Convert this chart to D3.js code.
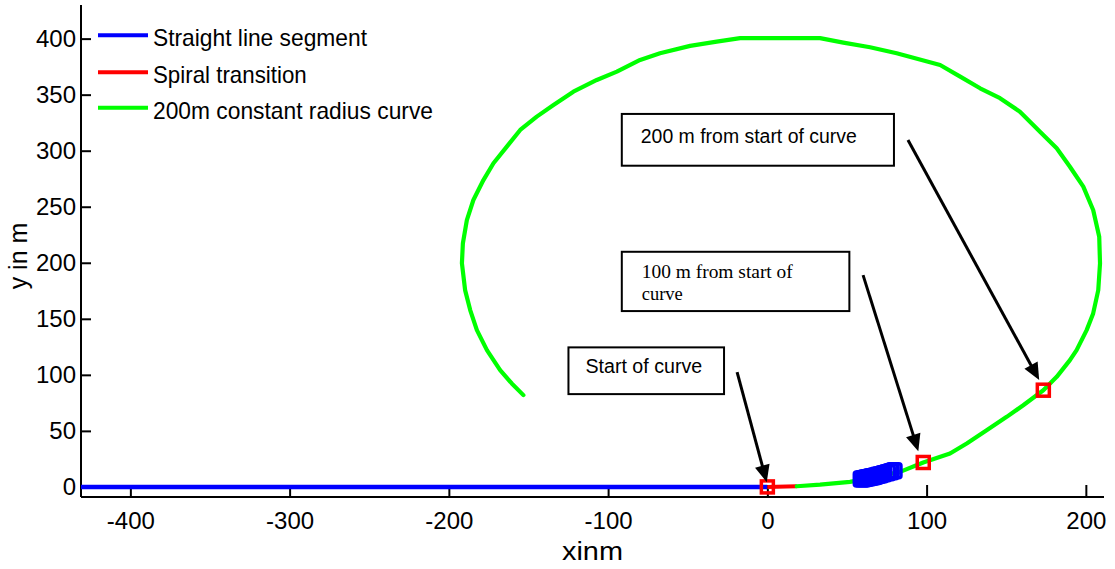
<!DOCTYPE html>
<html><head><meta charset="utf-8">
<script src="https://cdn.jsdelivr.net/npm/d3@7"></script>
<style>body{margin:0;background:#fff}svg{display:block}</style>
</head><body>
<svg id="chart" width="1115" height="569"></svg>
<script>
// ---------- data ----------
const xTicks = [-400, -300, -200, -100, 0, 100, 200];
const yTicks = [0, 50, 100, 150, 200, 250, 300, 350, 400];
const xLabel = "xinm";
const yLabel = "y in m";

const legendLabels = ["Straight line segment", "Spiral transition", "200m constant radius curve"];

// straight line segment (blue)
const straightX = [-431, 0];
const straightY = [0, 0];

// spiral transition (red)
const spiralX = [0, 6, 12, 18.5];
const spiralY = [0, 0.1, 0.3, 0.6];

// 200 m constant radius curve (green)
const curveX = [18.5, 33.1, 51.9, 67.6, 83.3, 97.9, 114.7, 125.2, 137.7, 150.3, 160.7, 173.3, 181.7, 190.0,
  194.2, 200.5, 204.6, 207.8, 208.9, 208.4, 204.6, 198.4, 190.0, 181.7, 171.2, 158.6, 146.1, 133.6,
  121.1, 108.5, 81.2, 64.5, 47.7, 33.1, -17.1, -31.8, -48.5, -67.4, -79.9, -94.5, -107.1, -121.8,
  -134.3, -144.8, -155.2, -163.6, -172.0, -178.3, -184.6, -188.7, -191.2, -191.8, -189.8, -186.6,
  -182.4, -176.1, -167.8, -160.5, -153.2];
const curveY = [0.6, 2.0, 4.5, 8.7, 13.4, 21.8, 29.8, 38.8, 50.6, 62.5, 72.9, 86.3, 98.2, 113.1,
  122.1, 139.9, 154.8, 175.6, 199.5, 223.2, 247.1, 267.9, 285.7, 302.1, 317.0, 334.8, 346.8, 355.7,
  366.1, 376.5, 387.0, 392.3, 396.4, 400.4, 400.4, 397.3, 393.5, 387.0, 381.0, 370.5, 363.1, 352.7,
  340.8, 330.4, 318.5, 303.6, 288.8, 273.8, 256.0, 238.1, 217.3, 199.5, 175.6, 157.8,
  139.9, 122.1, 104.2, 92.3, 81.9];

// blue square markers (cluster on the curve)
const blueMarkX = [59, 60, 61, 62, 63, 64, 65, 66, 67, 68, 69.5, 71, 73, 75.3, 77.5, 79.5];
const blueMarkY = [7.0, 7.3, 7.6, 7.9, 8.2, 8.5, 8.8, 9.1, 9.4, 9.7, 10.3, 10.9, 11.8, 12.7, 13.6, 14.5];

// red square markers: start of curve, 100 m, 200 m
const redMarkX = [0, 97.9, 173.3];
const redMarkY = [0, 21.8, 86.3];

// annotation boxes (data units): x0, x1, yTop, yBottom
const noteText = [["200 m from start of curve"], ["100 m from start of", "curve"], ["Start of curve"]];
const noteX0 = [-91.4, -91.4, -124.9];
const noteX1 = [79.5, 51.5, -27.2];
const noteYTop = [332.8, 209.8, 124.5];
const noteYBot = [286.6, 156.9, 82.8];

// arrows (data units): start -> tip
const arrowX0 = [88.3, 60.1, -19.0];
const arrowY0 = [309.6, 189.0, 102.4];
const arrowX1 = [170.7, 94.8, -0.4];
const arrowY1 = [95.3, 31.9, 4.2];

// ---------- layout / styles ----------
const plot = {left: 81, right: 1104, top: 5, bottom: 497};
const sans = "'Liberation Sans', Arial, Helvetica, sans-serif";
const serif = "'Liberation Serif', 'Times New Roman', serif";
const colors = ["#0000ff", "#ff0000", "#00ff00"];

const svg = d3.select("#chart");
const x = d3.scaleLinear().domain([-431, 211.4]).range([plot.left, plot.right]);
const y = d3.scaleLinear().domain([-9, 430]).range([plot.bottom, plot.top]);

const line = d3.line().x(d => x(d[0])).y(d => y(d[1]));
const zip = (a, b) => a.map((v, i) => [v, b[i]]);
const fmt = d => String(d);

// axes
const gx = svg.append("g").attr("transform", `translate(0,${plot.bottom})`)
  .call(d3.axisBottom(x).tickValues(xTicks).tickFormat(fmt)
    .tickSizeInner(-12).tickSizeOuter(0).tickPadding(15));
const gy = svg.append("g").attr("transform", `translate(${plot.left},0)`)
  .call(d3.axisLeft(y).tickValues(yTicks).tickFormat(fmt)
    .tickSizeInner(-10).tickSizeOuter(0).tickPadding(5));
[gx, gy].forEach(g => {
  g.select(".domain").attr("stroke", "#000").attr("stroke-width", 2);
  g.selectAll(".tick line").attr("stroke", "#000").attr("stroke-width", 2);
  g.selectAll(".tick text").attr("fill", "#000").style("font-family", sans).style("font-size", "24px");
});
gy.selectAll(".tick text").attr("dy", "0.33em");
gy.select(".domain").attr("d", `M0,${plot.top}V${plot.bottom}`);
gx.select(".domain").attr("d", `M${plot.left},0H${plot.right}`);

// axis labels
svg.append("text").attr("x", (plot.left + plot.right) / 2).attr("y", 560)
  .attr("text-anchor", "middle").attr("textLength", 61).attr("lengthAdjust", "spacingAndGlyphs")
  .style("font-family", sans).style("font-size", "25px").text(xLabel);
svg.append("text").attr("transform", `translate(27,${(plot.top + plot.bottom) / 2 + 5}) rotate(-90)`)
  .attr("text-anchor", "middle")
  .style("font-family", sans).style("font-size", "25px").text(yLabel);

// series lines
const plotG = svg.append("g");
plotG.append("path").datum(zip(straightX, straightY)).attr("d", line)
  .attr("fill", "none").attr("stroke", colors[0]).attr("stroke-width", 4.5);
plotG.append("path").datum(zip(spiralX, spiralY)).attr("d", line)
  .attr("fill", "none").attr("stroke", colors[1]).attr("stroke-width", 4);
plotG.append("path").datum(zip(curveX, curveY)).attr("d", line)
  .attr("fill", "none").attr("stroke", colors[2]).attr("stroke-width", 4.2)
  .attr("stroke-linejoin", "round").attr("stroke-linecap", "round");

// markers
const bs = 14;
plotG.selectAll("rect.blue").data(zip(blueMarkX, blueMarkY)).join("rect").attr("class", "blue")
  .attr("x", d => x(d[0]) - bs / 2).attr("y", d => y(d[1]) - bs / 2)
  .attr("width", bs).attr("height", bs).attr("rx", 2)
  .attr("fill", "none").attr("stroke", colors[0]).attr("stroke-width", 3.5);
const rs = 12;
plotG.selectAll("rect.red").data(zip(redMarkX, redMarkY)).join("rect").attr("class", "red")
  .attr("x", d => x(d[0]) - rs / 2).attr("y", d => y(d[1]) - rs / 2)
  .attr("width", rs).attr("height", rs)
  .attr("fill", "none").attr("stroke", colors[1]).attr("stroke-width", 3.5);

// annotation boxes
const notePad = [19, 20, 17];
const noteBase = [[29.3], [26.6, 48.3], [26]];
const noteFont = [sans, serif, sans];
const noteSize = [19.5, 19.4, 20];
const noteLen = [[216], [151, 41], [116.7]];
noteText.forEach((lines, i) => {
  const bx = x(noteX0[i]), by = y(noteYTop[i]);
  svg.append("rect").attr("x", bx).attr("y", by)
    .attr("width", x(noteX1[i]) - bx).attr("height", y(noteYBot[i]) - by)
    .attr("fill", "#fff").attr("stroke", "#000").attr("stroke-width", 2);
  lines.forEach((t, j) => {
    svg.append("text").attr("x", bx + notePad[i]).attr("y", by + noteBase[i][j])
      .attr("textLength", noteLen[i][j]).attr("lengthAdjust", "spacingAndGlyphs")
      .style("font-family", noteFont[i]).style("font-size", noteSize[i] + "px").text(t);
  });
});

// arrows
const headLen = 17, headW = 15;
arrowX0.forEach((_, i) => {
  const x0 = x(arrowX0[i]), y0 = y(arrowY0[i]), x1 = x(arrowX1[i]), y1 = y(arrowY1[i]);
  const dx = x1 - x0, dy = y1 - y0, L = Math.hypot(dx, dy);
  const ux = dx / L, uy = dy / L;
  const bxp = x1 - ux * headLen, byp = y1 - uy * headLen;
  svg.append("line").attr("x1", x0).attr("y1", y0).attr("x2", bxp + ux * 2).attr("y2", byp + uy * 2)
    .attr("stroke", "#000").attr("stroke-width", 3);
  const px = -uy * headW / 2, py = ux * headW / 2;
  svg.append("path").attr("d", `M${x1},${y1}L${bxp + px},${byp + py}L${bxp - px},${byp - py}Z`)
    .attr("fill", "#000");
});

// legend
const legY = [35.3, 72.3, 107.7];
const legLen = [214, 153.7, 280];
legendLabels.forEach((t, i) => {
  svg.append("line").attr("x1", 98).attr("x2", 148).attr("y1", legY[i]).attr("y2", legY[i])
    .attr("stroke", colors[i]).attr("stroke-width", 4);
  svg.append("text").attr("x", 153).attr("y", legY[i] + 11)
    .attr("textLength", legLen[i]).attr("lengthAdjust", "spacingAndGlyphs")
    .style("font-family", sans).style("font-size", "24px").text(t);
});
</script>
</body></html>
